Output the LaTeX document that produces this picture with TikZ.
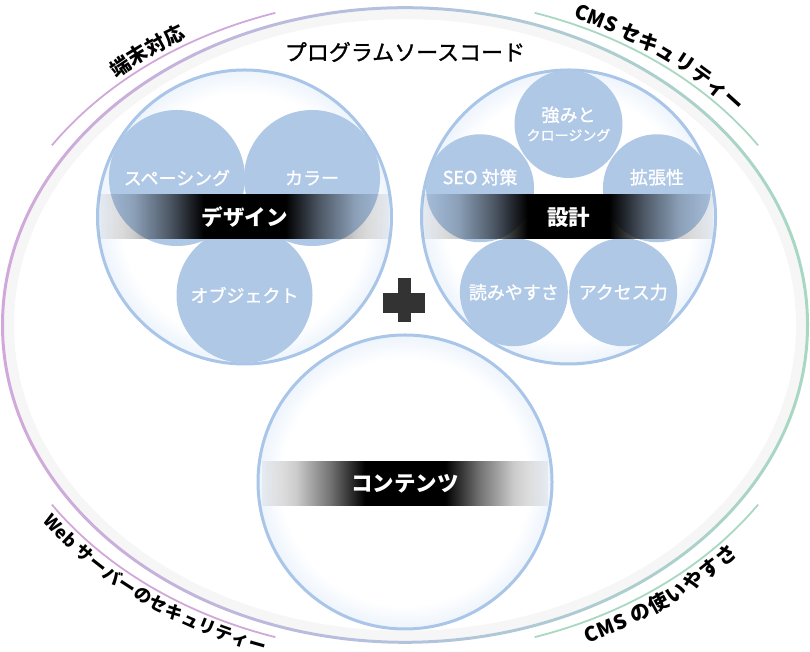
\documentclass[tikz,border=0pt]{standalone}
\usepackage{fontspec}
\setmainfont{Noto Sans CJK JP}
\newfontfamily\jpmed[FakeBold=1.2]{Noto Sans CJK JP}
\usetikzlibrary{decorations.text, fadings}
\definecolor{ringblue}{HTML}{A9C5E8}
\definecolor{dotblue}{HTML}{AFC8E6}
\definecolor{glowblue}{HTML}{EDF4FC}
\definecolor{rimpurple}{HTML}{D2A8DA}
\definecolor{rimblue}{HTML}{B2C2DE}
\definecolor{rimgreen}{HTML}{A8D8C2}
\definecolor{bandgray}{HTML}{F6F6F6}
\definecolor{plusgray}{HTML}{333333}
\pgfdeclareradialshading{bigglow}{\pgfpoint{0bp}{0bp}}{color(0bp)=(white); color(21bp)=(white); color(25bp)=(glowblue); color(50bp)=(glowblue)}
\pgfdeclarehorizontalshading{barramp}{100bp}{color(0bp)=(black!96); color(25bp)=(black!96); color(31bp)=(black!80); color(37bp)=(black!45); color(43bp)=(white); color(57bp)=(white); color(63bp)=(black!45); color(69bp)=(black!80); color(75bp)=(black!96); color(100bp)=(black!96)}
\pgfdeclarefading{barfade}{\pgfuseshading{barramp}}
\newcommand\arcfont{\bfseries\fontsize{20}{24}\selectfont}
\newcommand\lowfont{\bfseries\fontsize{17.5}{21}\selectfont}
\tikzset{
  ring/.style={circle, draw=ringblue, line width=3pt, shade, shading=bigglow, minimum size=294pt, inner sep=0pt},
  dot/.style={circle, fill=dotblue, inner sep=0pt, text=white, align=center, font=\jpmed\fontsize{18}{21}\selectfont},
  bar/.style={rectangle, fill=black, path fading=barfade, minimum height=45pt, inner sep=0pt, text=white, font=\bfseries\fontsize{21.5}{24}\selectfont},
  rimline/.style={line width=1.8pt},
}

\begin{document}
\begin{tikzpicture}[x=1pt, y=1pt]
  \useasboundingbox (0,0) rectangle (810,652);
  \coordinate (ctr) at (405,327);

  % outer ellipse
  \draw[bandgray, line width=10pt] (ctr) ellipse[x radius=396pt, y radius=310.8pt];
  \shade[left color=rimpurple, right color=rimgreen, middle color=rimblue, even odd rule]
    (ctr) ellipse[x radius=404pt, y radius=318.8pt] (ctr) ellipse[x radius=401pt, y radius=315.8pt];

  % labels round the ellipse
  \draw[rimline, rimpurple, postaction={decorate, decoration={text along path, text align=center, raise=6pt, text color=black, text={|\arcfont|端末対応}}}]
    ([shift={(146.8:422pt and 328pt)}]ctr) arc[start angle=146.8, end angle=107.9, x radius=422pt, y radius=328pt];
  \draw[rimline, rimgreen, postaction={decorate, decoration={text along path, text align=center, raise=6pt, text color=black, text={|\arcfont|CMS セキュリティー}}}]
    ([shift={(72.1:422pt and 328pt)}]ctr) arc[start angle=72.1, end angle=33.2, x radius=422pt, y radius=328pt];
  \draw[rimline, rimpurple, postaction={decorate, decoration={text along path, text align=center, raise=-18pt, text color=black, text={|\lowfont|Web サーバーのセキュリティー}}}]
    ([shift={(213.2:422pt and 328pt)}]ctr) arc[start angle=213.2, end angle=252.1, x radius=422pt, y radius=328pt];
  \draw[rimline, rimgreen, postaction={decorate, decoration={text along path, text align=center, raise=-21pt, text color=black, text={|\arcfont|CMS の使いやすさ}}}]
    ([shift={(287.9:422pt and 328pt)}]ctr) arc[start angle=287.9, end angle=326.8, x radius=422pt, y radius=328pt];

  \node[font=\jpmed\fontsize{22}{24}\selectfont] (title) at (405,600) {プログラムソースコード};

  % three big circles
  \node[ring] (design) at (244.5,435) {};
  \node[ring] (plan) at (568.5,435) {};
  \node[ring] (content) at (405,170) {};

  \node[dot, minimum size=136pt] (spacing) at ([shift={(150:78pt)}]design.center) {スペーシング};
  \node[dot, minimum size=136pt] (color) at ([shift={(30:78pt)}]design.center) {カラー};
  \node[dot, minimum size=136pt] (object) at ([shift={(270:78pt)}]design.center) {オブジェクト};

  \node[dot, minimum size=108pt] (strength) at ([shift={(90:93pt)}]plan.center)
    {強みと\\[-2pt]{\fontsize{14}{16}\selectfont クロージング}};
  \node[dot, minimum size=108pt, label={[text=white, font=\jpmed\fontsize{18}{21}\selectfont, yshift=11pt]center:SEO 対策}] (seo) at ([shift={(162:93pt)}]plan.center) {};
  \node[dot, minimum size=108pt, label={[text=white, font=\jpmed\fontsize{18}{21}\selectfont, yshift=11pt]center:拡張性}] (scale) at ([shift={(18:93pt)}]plan.center) {};
  \node[dot, minimum size=108pt] (read) at ([shift={(234:93pt)}]plan.center) {読みやすさ};
  \node[dot, minimum size=108pt] (access) at ([shift={(306:93pt)}]plan.center) {アクセス力};

  \node[bar, minimum width=290pt] (designbar) at (design.center) {デザイン};
  \node[bar, minimum width=290pt] (planbar) at (plan.center) {設計};
  \node[bar, minimum width=286pt] (contentbar) at ([yshift=-1.5pt]content.center) {コンテンツ};

  % plus
  \fill[plusgray] (382.7,339.3) rectangle (425,358.7);
  \fill[plusgray] (397.7,330.3) rectangle (410.7,373.7);
\end{tikzpicture}
\end{document}
